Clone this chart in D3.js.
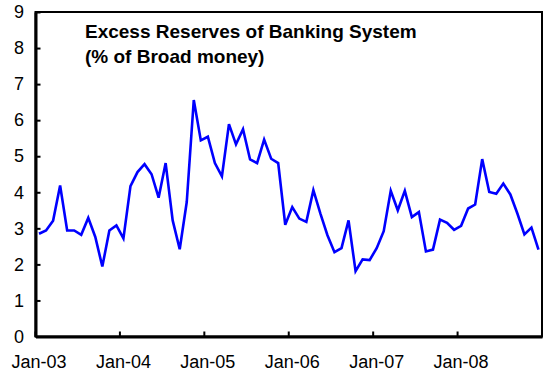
<!DOCTYPE html>
<html>
<head>
<meta charset="utf-8">
<script src="https://cdn.jsdelivr.net/npm/d3@7"></script>
<style>
  html, body { margin: 0; padding: 0; background: #fff; }
  svg { display: block; }
  text { font-family: "Liberation Sans", Arial, sans-serif; fill: #000; }
</style>
</head>
<body>
<svg id="chart" width="552" height="376"></svg>
<script>
// ---- data ----
const years = ["03", "04", "05", "06", "07", "08"];
const monthNames = ["Jan","Feb","Mar","Apr","May","Jun","Jul","Aug","Sep","Oct","Nov","Dec"];
const yTicks = [0, 1, 2, 3, 4, 5, 6, 7, 8, 9];
const titleLines = ["Excess Reserves of Banking System", "(% of Broad money)"];
const excessReserves = [
  2.85, 2.94, 3.21, 4.19, 2.94, 2.94, 2.82, 3.29, 2.76, 1.94, 2.94, 3.08,
  2.72, 4.17, 4.56, 4.78, 4.50, 3.85, 4.81, 3.22, 2.42, 3.73, 6.56, 5.44,
  5.54, 4.81, 4.44, 5.89, 5.33, 5.75, 4.91, 4.81, 5.46, 4.93, 4.81, 3.10,
  3.59, 3.27, 3.18, 4.06, 3.41, 2.81, 2.34, 2.45, 3.22, 1.81, 2.14, 2.12,
  2.45, 2.92, 4.04, 3.50, 4.04, 3.31, 3.45, 2.36, 2.41, 3.24, 3.15, 2.96,
  3.07, 3.55, 3.66, 4.92, 4.01, 3.96, 4.24, 3.94, 3.41, 2.83, 3.02, 2.41
];
const categories = years.flatMap(yr => monthNames.map(m => m + "-" + yr));
const xTickLabels = years.map(yr => "Jan-" + yr);

// ---- layout ----
const pLeft = 35.5, pRight = 542, pTop = 12, pBottom = 336.5;
const svg = d3.select("#chart");

const x = d3.scaleBand().domain(categories).range([pLeft, pRight]).paddingInner(0).paddingOuter(0);
const y = d3.scaleLinear().domain([0, 9]).range([pBottom, pTop]);
const bw = x.bandwidth();

// frame (top/right)
svg.append("rect")
  .attr("x", pLeft).attr("y", pTop)
  .attr("width", pRight - pLeft).attr("height", pBottom - pTop)
  .attr("fill", "none").attr("stroke", "#000").attr("stroke-width", 2);

// y axis
const yAxis = svg.append("g")
  .attr("transform", `translate(${pLeft},0)`)
  .call(d3.axisLeft(y).tickValues(yTicks).tickFormat(d3.format("d"))
    .tickSizeInner(-5).tickSizeOuter(0).tickPadding(11));
yAxis.select(".domain").attr("stroke", "#000").attr("stroke-width", 3);
yAxis.selectAll(".tick line").attr("stroke", "#000").attr("stroke-width", 2);
yAxis.selectAll(".tick text")
  .style("font-size", "18px")
  .attr("x", -11.5);

// x axis
const xAxis = svg.append("g")
  .attr("transform", `translate(0,${pBottom})`)
  .call(d3.axisBottom(x).tickValues(xTickLabels)
    .tickSizeInner(-5).tickSizeOuter(0).tickPadding(19));
xAxis.select(".domain").attr("stroke", "#000").attr("stroke-width", 3);
xAxis.selectAll(".tick line")
  .attr("x1", -bw / 2).attr("x2", -bw / 2)
  .attr("stroke", "#000").attr("stroke-width", 2);
xAxis.selectAll(".tick text").style("font-size", "18px");

// line
const line = d3.line()
  .x((d, i) => x(categories[i]) + bw / 2)
  .y(d => y(d));
svg.append("path")
  .datum(excessReserves)
  .attr("fill", "none")
  .attr("stroke", "#0000FF")
  .attr("stroke-width", 2.6)
  .attr("stroke-linejoin", "miter")
  .attr("d", line);

// title
svg.append("g").selectAll("text")
  .data(titleLines)
  .join("text")
  .attr("x", 85)
  .attr("y", (d, i) => 38 + i * 25)
  .style("font-size", "19px")
  .style("font-weight", "bold")
  .text(d => d);
</script>
</body>
</html>
